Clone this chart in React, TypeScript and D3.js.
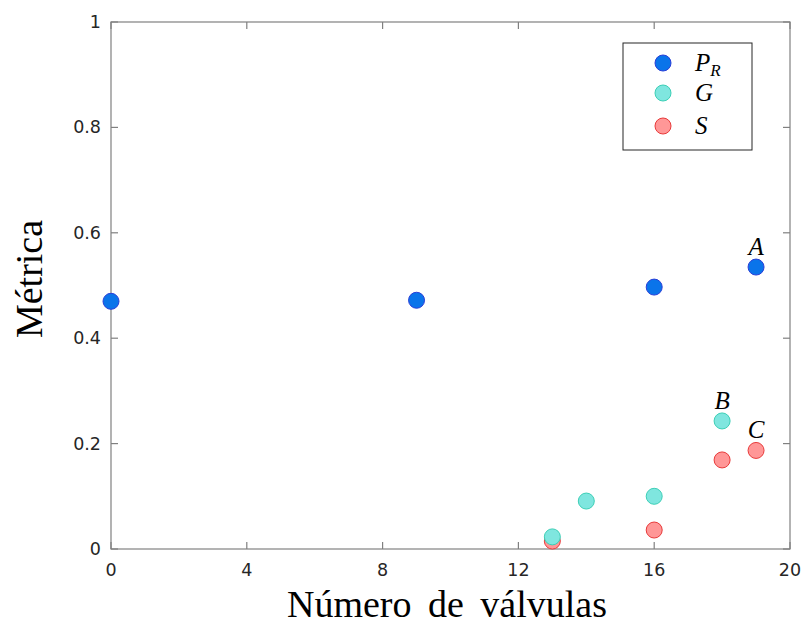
import React from "react";
import * as d3 from "d3";

const prX = [0, 9, 16, 19];
const prY = [0.47, 0.472, 0.497, 0.535];
const gX = [13, 14, 16, 18];
const gY = [0.023, 0.091, 0.1, 0.243];
const sX = [13, 16, 18, 19];
const sY = [0.015, 0.036, 0.169, 0.187];
const xTicks = [0, 4, 8, 12, 16, 20];
const yTicks = [0, 0.2, 0.4, 0.6, 0.8, 1];
const yTickLabels = ["0", "0.2", "0.4", "0.6", "0.8", "1"];
const annotations = [
  { label: "A", x: 19, y: 0.535 },
  { label: "B", x: 18, y: 0.243 },
  { label: "C", x: 19, y: 0.187 },
];

const W = 805, H = 626;
const L = 111, R = 790, T = 22, B = 549;

export default function App() {
  const x = d3.scaleLinear().domain([0, 20]).range([L, R]);
  const y = d3.scaleLinear().domain([0, 1]).range([B, T]);
  const axisColor = "#808080";
  const textColor = "#262626";
  const series = [
    { xs: prX, ys: prY, fill: "#0a74ea", stroke: "#2a3fd8" },
    { xs: sX, ys: sY, fill: "#ff9797", stroke: "#e83a3a" },
    { xs: gX, ys: gY, fill: "#7fe6df", stroke: "#3ccfb6" },
  ];
  const legend = [
    { name: "P", sub: "R", fill: "#0a74ea", stroke: "#2a3fd8" },
    { name: "G", sub: "", fill: "#7fe6df", stroke: "#3ccfb6" },
    { name: "S", sub: "", fill: "#ff9797", stroke: "#e83a3a" },
  ];
  const legendYs = [63, 93, 126];
  return (
    <svg width={W} height={H} style={{ position: "absolute", left: 0, top: 0, background: "#fff" }}>
      <rect x={0} y={0} width={W} height={H} fill="#fff" />
      <rect x={L} y={T} width={R - L} height={B - T} fill="#fff" stroke={axisColor} strokeWidth={1.2} />
      {xTicks.map((t) => (
        <g key={"x" + t}>
          <line x1={x(t)} x2={x(t)} y1={B} y2={B - 7} stroke={axisColor} strokeWidth={1.2} />
          <line x1={x(t)} x2={x(t)} y1={T} y2={T + 7} stroke={axisColor} strokeWidth={1.2} />
          <text x={x(t)} y={576} textAnchor="middle" fontFamily="DejaVu Sans" fontSize={17.5} fill={textColor}>{t}</text>
        </g>
      ))}
      {yTicks.map((t, i) => (
        <g key={"y" + t}>
          <line x1={L} x2={L + 7} y1={y(t)} y2={y(t)} stroke={axisColor} strokeWidth={1.2} />
          <line x1={R} x2={R - 7} y1={y(t)} y2={y(t)} stroke={axisColor} strokeWidth={1.2} />
          <text x={101} y={y(t) + 6} textAnchor="end" fontFamily="DejaVu Sans" fontSize={17.5} fill={textColor}>{yTickLabels[i]}</text>
        </g>
      ))}
      {series.map((s, si) => (
        <g key={"s" + si}>
          {s.xs.map((v, i) => (
            <circle key={i} cx={x(v)} cy={y(s.ys[i])} r={8} fill={s.fill} stroke={s.stroke} strokeWidth={1} />
          ))}
        </g>
      ))}
      {annotations.map((a) => (
        <text key={a.label} x={x(a.x)} y={y(a.y) - 12} textAnchor="middle" fontFamily="Liberation Serif" fontStyle="italic" fontSize={25} fill="#000">{a.label}</text>
      ))}
      <rect x={623} y={43} width={129} height={107} fill="#fff" stroke="#262626" strokeWidth={1} />
      {legend.map((l, i) => (
        <g key={l.name}>
          <circle cx={663} cy={legendYs[i]} r={8} fill={l.fill} stroke={l.stroke} strokeWidth={1} />
          <text x={695} y={legendYs[i] + 8} fontFamily="Liberation Serif" fontStyle="italic" fontSize={25} fill="#000">
            {l.name}
            {l.sub && <tspan fontSize={17} dy={5} dx={0}>{l.sub}</tspan>}
          </text>
        </g>
      ))}
      <text x={447} y={617} textAnchor="middle" fontFamily="Liberation Serif" fontSize={38} fill="#000" wordSpacing={7}>Número de válvulas</text>
      <text transform="translate(42,279) rotate(-90)" textAnchor="middle" fontFamily="Liberation Serif" fontSize={38} fill="#000">Métrica</text>
    </svg>
  );
}
